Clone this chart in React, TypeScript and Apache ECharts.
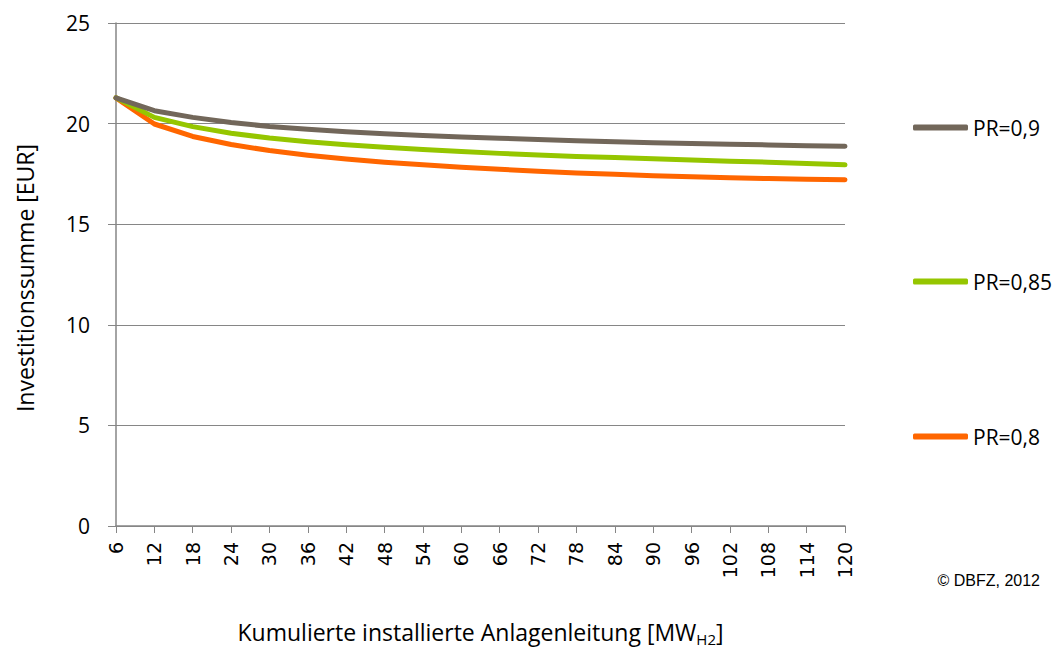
import React, { useEffect, useRef } from "react";
import * as echarts from "echarts";

const categories = ["6","12","18","24","30","36","42","48","54","60","66","72","78","84","90","96","102","108","114","120"];
const pr09 = [21.28,20.64,20.31,20.05,19.86,19.72,19.6,19.5,19.41,19.34,19.27,19.21,19.15,19.1,19.05,19.01,18.97,18.94,18.9,18.87];
const pr085 = [21.28,20.31,19.85,19.52,19.28,19.1,18.95,18.82,18.71,18.61,18.52,18.44,18.37,18.31,18.25,18.19,18.13,18.08,18.02,17.95];
const pr08 = [21.28,19.98,19.36,18.96,18.66,18.43,18.24,18.08,17.95,17.83,17.73,17.63,17.55,17.48,17.41,17.36,17.31,17.27,17.24,17.21];
const seriesNames = ["PR=0,9", "PR=0,85", "PR=0,8"];
const colors = ["#72675a", "#95c600", "#ff6600"];
const yTitle = "Investitionssumme [EUR]";
const xTitle = "Kumulierte installierte Anlagenleitung [MW{sub|H2}]";
const credit = "© DBFZ, 2012";

export default function App() {
  const ref = useRef<HTMLDivElement>(null);
  useEffect(() => {
    const chart = echarts.init(ref.current!, null, { renderer: "svg" });
    const font = "'Open Sans', sans-serif";
    const legendTops = [117, 271, 426];
    chart.setOption({
      animation: false,
      backgroundColor: "#fff",
      grid: { left: 116, right: 216, top: 23, bottom: 110, containLabel: false },
      xAxis: {
        type: "category",
        data: categories,
        boundaryGap: false,
        axisLine: { show: true, lineStyle: { color: "#868686", width: 1.5 } },
        axisTick: { show: true, length: 7, interval: 0, lineStyle: { color: "#868686" } },
        axisLabel: { interval: 0, rotate: 90, margin: 16, fontSize: 19, color: "#000", fontFamily: "'DejaVu Sans', sans-serif" },
        splitLine: { show: false },
        name: xTitle,
        nameLocation: "middle",
        nameGap: 91,
        nameTextStyle: {
          fontSize: 23, color: "#000", fontFamily: font,
          rich: { sub: { fontSize: 15, color: "#000", fontFamily: font, padding: [14, 0, 0, 0] } },
        },
      },
      yAxis: {
        type: "value",
        min: 0,
        max: 25,
        interval: 5,
        axisLine: { show: true, lineStyle: { color: "#868686", width: 1.5 } },
        axisTick: { show: true, length: 8, lineStyle: { color: "#868686" } },
        axisLabel: { margin: 26, fontSize: 21, color: "#000", fontFamily: font },
        splitLine: { show: true, lineStyle: { color: "#868686", width: 1.2 } },
      },
      legend: seriesNames.map((n, i) => ({
        data: [n],
        left: 913,
        top: legendTops[i],
        padding: 0,
        orient: "vertical",
        icon: "roundRect",
        itemWidth: 55,
        itemHeight: 6,
        itemGap: 0,
        textStyle: { fontSize: 21, color: "#000", fontFamily: font },
      })),
      graphic: [
        {
          type: "text",
          x: 25,
          y: 278,
          rotation: Math.PI / 2,
          style: {
            text: yTitle, fontSize: 23, fill: "#000", fontFamily: font,
            textAlign: "center", textVerticalAlign: "middle",
          },
        },
        {
          type: "text",
          x: 1040,
          y: 580,
          style: {
            text: credit, fontSize: 16, fill: "#000",
            fontFamily: "'Liberation Sans', Arial, sans-serif",
            textAlign: "right", textVerticalAlign: "middle",
          },
        },
      ],
      series: [pr09, pr085, pr08].map((d, i) => ({
        name: seriesNames[i],
        type: "line",
        data: d,
        showSymbol: false,
        symbol: "none",
        color: colors[i],
        lineStyle: { width: 5, color: colors[i], cap: "round", join: "round" },
        z: 3 - i,
      })),
    });
    return () => chart.dispose();
  }, []);
  return <div ref={ref} style={{ position: "fixed", left: 0, top: 0, width: 1061, height: 651 }} />;
}
